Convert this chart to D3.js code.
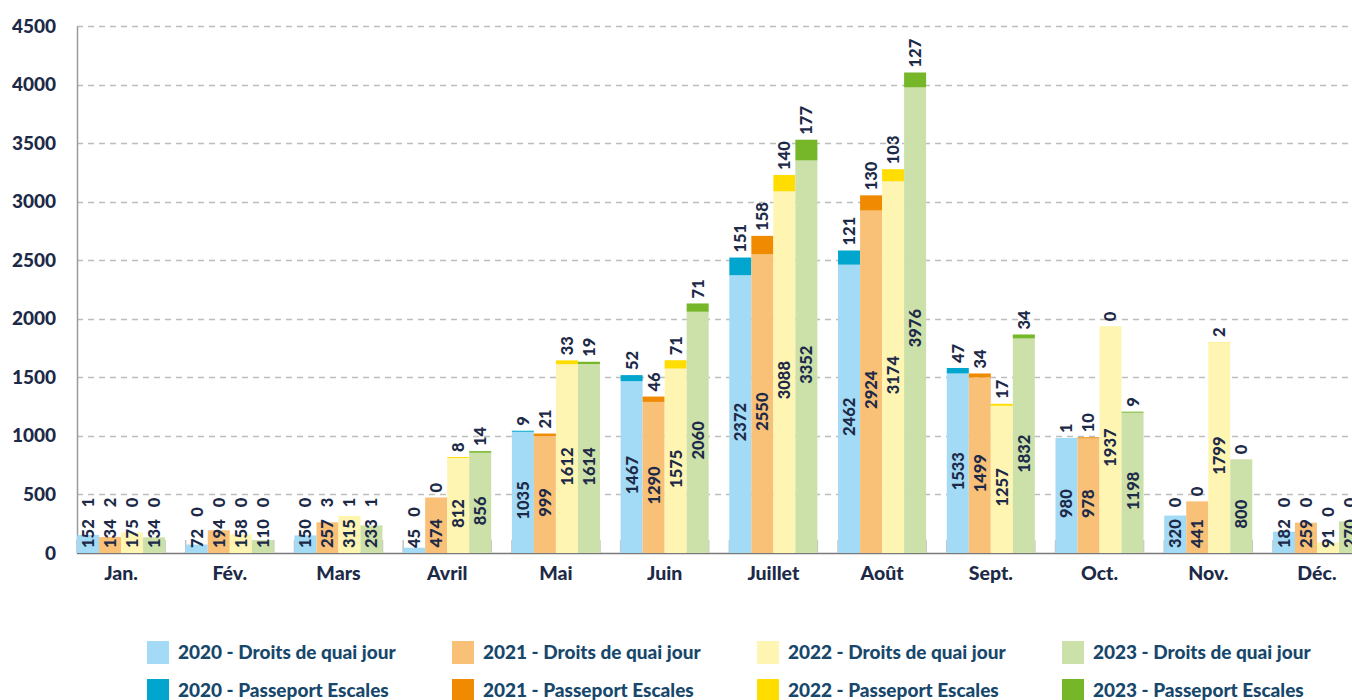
<!DOCTYPE html>
<html>
<head>
<meta charset="utf-8">
<script src="https://cdn.jsdelivr.net/npm/d3@7"></script>
<style>
  body { margin: 0; background: #fff; }
  svg text { font-family: Lato, "Open Sans", sans-serif; font-weight: 900; }
</style>
</head>
<body>
<div id="chart"></div>
<script>
const months = ["Jan.", "Fév.", "Mars", "Avril", "Mai", "Juin", "Juillet", "Août", "Sept.", "Oct.", "Nov.", "Déc."];
const years = ["2020", "2021", "2022", "2023"];

// Droits de quai jour
const droits2020 = [152, 72, 150, 45, 1035, 1467, 2372, 2462, 1533, 980, 320, 182];
const droits2021 = [134, 194, 257, 474, 999, 1290, 2550, 2924, 1499, 978, 441, 259];
const droits2022 = [175, 158, 315, 812, 1612, 1575, 3088, 3174, 1257, 1937, 1799, 91];
const droits2023 = [134, 110, 233, 856, 1614, 2060, 3352, 3976, 1832, 1198, 800, 270];

// Passeport Escales
const passeport2020 = [1, 0, 0, 0, 9, 52, 151, 121, 47, 1, 0, 0];
const passeport2021 = [2, 0, 3, 0, 21, 46, 158, 130, 34, 10, 0, 0];
const passeport2022 = [0, 0, 1, 8, 33, 71, 140, 103, 17, 0, 2, 0];
const passeport2023 = [0, 0, 1, 14, 19, 71, 177, 127, 34, 9, 0, 0];

const yTicks = [0, 500, 1000, 1500, 2000, 2500, 3000, 3500, 4000, 4500];

const droitsColors = ["#A3DAF5", "#F9C077", "#FFF5B2", "#CCE0A9"];
const passColors = ["#00A6CE", "#F08A00", "#FFDD00", "#76B72A"];

document.addEventListener("DOMContentLoaded", function () {
    const width = 1352;
    const height = 700;
    const svg = d3.select("#chart").append("svg")
        .attr("width", width)
        .attr("height", height);

    const droits = [droits2020, droits2021, droits2022, droits2023];
    const passeport = [passeport2020, passeport2021, passeport2022, passeport2023];

    const x = d3.scaleBand()
        .domain(months)
        .range([77, 1361])
        .paddingInner(0.19)
        .paddingOuter(0)
        .align(0);

    const xYear = d3.scaleBand()
        .domain(years)
        .range([0, x.bandwidth()]);

    const y = d3.scaleLinear()
        .domain([0, 4500])
        .range([553, 26]);

    // grille pointillée
    svg.append("g")
        .selectAll("line")
        .data(yTicks.filter(d => d > 0))
        .enter()
        .append("line")
        .attr("x1", 77)
        .attr("x2", width)
        .attr("y1", d => Math.round(y(d)) + 0.5)
        .attr("y2", d => Math.round(y(d)) + 0.5)
        .attr("stroke", "#bdbdbd")
        .attr("stroke-width", 1.3)
        .attr("stroke-dasharray", "6,5");

    // axe Y
    const yAxis = svg.append("g")
        .attr("transform", "translate(77,0)")
        .call(d3.axisLeft(y).tickValues(yTicks).tickFormat(d3.format("d")).tickSize(0).tickPadding(21));
    yAxis.select(".domain").attr("stroke", "#9a9a9a").attr("stroke-width", 1.5);
    yAxis.selectAll("text")
        .style("font-size", "19px")
        .style("fill", "#1c2a48");

    // axe X
    const xAxis = svg.append("g")
        .attr("transform", "translate(0,553)")
        .call(d3.axisBottom(x).tickSize(0).tickPadding(13));
    xAxis.select(".domain").attr("d", `M77,0.5H${width}`).attr("stroke", "#7a7a7a").attr("stroke-width", 1.5);
    xAxis.selectAll("text")
        .style("font-size", "19.5px")
        .style("fill", "#1c2a48");

    // petits repères aux bords des groupes
    svg.append("g")
        .selectAll("path")
        .data(months)
        .enter()
        .append("path")
        .attr("d", d => `M${x(d)},540V553M${x(d) + x.bandwidth()},540V553`)
        .attr("stroke", "#c4c4c4")
        .attr("stroke-width", 1.5);

    // données par barre
    const barData = [];
    months.forEach((m, i) => {
        years.forEach((yr, j) => {
            barData.push({ month: m, year: yr, k: j, droits: droits[j][i], pass: passeport[j][i] });
        });
    });

    const groups = svg.append("g")
        .selectAll("g")
        .data(barData)
        .enter()
        .append("g")
        .attr("transform", d => `translate(${x(d.month) + xYear(d.year)},0)`);

    groups.append("rect")
        .attr("x", 0)
        .attr("width", xYear.bandwidth())
        .attr("y", d => y(d.droits))
        .attr("height", d => y(0) - y(d.droits))
        .attr("fill", d => droitsColors[d.k]);

    groups.append("rect")
        .attr("x", 0)
        .attr("width", xYear.bandwidth())
        .attr("y", d => y(d.droits + d.pass))
        .attr("height", d => y(d.droits) - y(d.droits + d.pass))
        .attr("fill", d => passColors[d.k]);

    const cx = xYear.bandwidth() / 2;

    // étiquettes droits (dans la barre)
    groups.each(function (d) {
        const g = d3.select(this);
        const t = g.append("text")
            .attr("text-anchor", "middle")
            .attr("dy", "0.36em")
            .style("font-size", "16.5px")
            .style("fill", "#1c2a48")
            .text(d.droits);
        const len = t.node().getComputedTextLength();
        let cy = (y(0) + y(d.droits)) / 2 + 8;
        cy = Math.min(cy, y(0) - 5 - len / 2);
        t.attr("transform", `translate(${cx},${cy}) rotate(-90)`);
        const top = cy - len / 2;

        // étiquettes passeport (au-dessus)
        const pb = Math.min(y(d.droits + d.pass) - 5, top - 12);
        g.append("text")
            .attr("text-anchor", "start")
            .attr("dy", "0.36em")
            .attr("transform", `translate(${cx},${pb}) rotate(-90)`)
            .style("font-size", "16.5px")
            .style("fill", "#1c2a48")
            .text(d.pass);
    });

    // légende
    const legend = svg.append("g");
    years.forEach((yr, j) => {
        const lx = 147 + j * 305;
        [["Droits de quai jour", droitsColors[j], 641], ["Passeport Escales", passColors[j], 679]].forEach(([lab, col, ly]) => {
            legend.append("rect")
                .attr("x", lx)
                .attr("y", ly)
                .attr("width", 22)
                .attr("height", 23)
                .attr("fill", col);
            legend.append("text")
                .attr("x", lx + 31)
                .attr("y", ly + 18)
                .style("font-size", "19px")
                .style("fill", "#17476b")
                .text(`${yr} - ${lab}`);
        });
    });
});
</script>
</body>
</html>
